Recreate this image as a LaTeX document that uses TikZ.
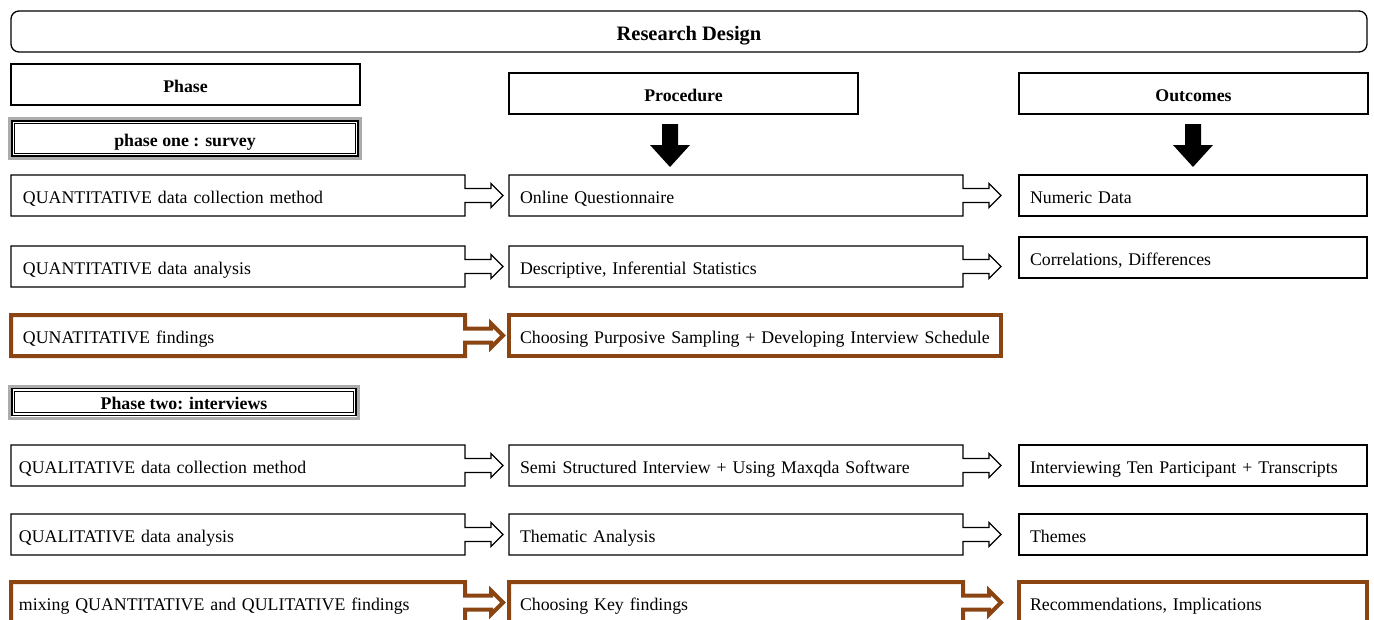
\documentclass[tikz,border=0pt]{standalone}
\usepackage{fontspec}
\setmainfont{Liberation Serif}
\definecolor{brn}{RGB}{139,69,19}
\newcommand\arrowbox[2]{%
  \draw[#2] (#1.north west) -- (#1.north east) -- ([yshift=7pt]#1.east) -- ++(26pt,0pt) -- ++(0pt,5pt)
    -- ([xshift=38pt]#1.east) -- ++(-12pt,-12pt) -- ++(0pt,5pt) -- ([yshift=-7pt]#1.east)
    -- (#1.south east) -- (#1.south west) -- cycle;}
\newcommand\blockdown[1]{%
  \fill (#1) +(-8pt,0pt) -- +(8pt,0pt) -- +(8pt,-21pt) -- +(20pt,-21pt) -- +(0pt,-43pt)
    -- +(-20pt,-21pt) -- +(-8pt,-21pt) -- cycle;}
\tikzset{
  txt/.style={font=\fontsize{17.8}{21}\selectfont},
  hdr/.style={draw, line width=1.3pt, anchor=north west, inner sep=0pt, outer sep=0pt,
    minimum width=349pt, minimum height=41pt, text height=15pt, text depth=0pt,
    font=\bfseries\fontsize{17.8}{21}\selectfont},
  base/.style={txt, anchor=north west, inner ysep=0pt, outer sep=0pt, minimum height=41pt,
    text height=15pt, text depth=0pt, align=left},
  lbox/.style={base, inner xsep=12pt, text width=430pt},
  lboxb/.style={base, inner xsep=8pt, text width=438pt},
  mbox/.style={base, inner xsep=11pt, text width=432pt},
  wbox/.style={base, inner xsep=11pt, text width=470pt},
  rbox/.style={base, draw, line width=1.3pt, inner xsep=11pt, text width=326pt},
  blk/.style={line width=1.3pt, line join=miter},
  brw/.style={draw=brn, line width=4pt, line join=miter},
  phasebox/.style={anchor=north west, inner sep=0pt, outer sep=0pt, text height=15pt, text depth=0pt,
    font=\bfseries\fontsize{17.8}{21}\selectfont}
}
\begin{document}
\begin{tikzpicture}[x=1pt, y=-1pt]
\useasboundingbox (0,0) rectangle (1374,619);
\clip (0,0) rectangle (1374,619);

% title
\node[draw, rounded corners=8pt, line width=1.3pt, anchor=north west, inner sep=0pt, outer sep=0pt,
  minimum width=1356pt, minimum height=41pt, text height=17pt, text depth=0pt,
  font=\bfseries\fontsize{20.5}{24}\selectfont]
  (title) at (11,11) {Research Design};

% headers
\node[hdr] (hphase) at (11,64) {Phase};
\node[hdr] (hproc) at (509,73) {Procedure};
\node[hdr] (hout) at (1019,73) {Outcomes};

% down arrows
\coordinate (d1) at (670,124);
\coordinate (d2) at (1193,124);
\blockdown{d1}
\blockdown{d2}

% phase one box
\node[phasebox, minimum width=351pt, minimum height=40pt] (p1) at (9.5,118.5) {phase one : survey};
\draw[gray!65, line width=3pt] (p1.north west) rectangle (p1.south east);
\draw[line width=1.8pt] ([shift={(2.5pt,-2.5pt)}]p1.north west) rectangle ([shift={(-2.5pt,2.5pt)}]p1.south east);
\draw[line width=1pt] ([shift={(5.3pt,-5.3pt)}]p1.north west) rectangle ([shift={(-5.3pt,5.3pt)}]p1.south east);

% row 1
\node[lbox] (a1) at (11,175) {QUANTITATIVE data collection method};
\node[mbox] (b1) at (509,175) {Online Questionnaire};
\node[rbox] (c1) at (1019,175) {Numeric Data};
\arrowbox{a1}{blk}
\arrowbox{b1}{blk}

% row 2
\node[lbox] (a2) at (11,246) {QUANTITATIVE data analysis};
\node[mbox] (b2) at (509,246) {Descriptive, Inferential Statistics};
\node[rbox] (c2) at (1019,237) {Correlations, Differences};
\arrowbox{a2}{blk}
\arrowbox{b2}{blk}

% row 3
\node[lbox] (a3) at (11,315) {QUNATITATIVE findings};
\node[wbox, draw=brn, line width=4pt] (b3) at (509,315) {Choosing Purposive Sampling + Developing Interview Schedule};
\arrowbox{a3}{brw}

% phase two box
\node[phasebox, minimum width=349pt, minimum height=32pt] (p2) at (9.5,386) {Phase two: interviews};
\draw[gray!65, line width=3pt] (p2.north west) rectangle (p2.south east);
\draw[line width=1.8pt] ([shift={(2.5pt,-2.5pt)}]p2.north west) rectangle ([shift={(-2.5pt,2.5pt)}]p2.south east);
\draw[line width=1pt] ([shift={(5.3pt,-5.3pt)}]p2.north west) rectangle ([shift={(-5.3pt,5.3pt)}]p2.south east);

% row 4
\node[lboxb] (a4) at (11,445) {QUALITATIVE data collection method};
\node[mbox] (b4) at (509,445) {Semi Structured Interview + Using Maxqda Software};
\node[rbox] (c4) at (1019,445) {Interviewing Ten Participant + Transcripts};
\arrowbox{a4}{blk}
\arrowbox{b4}{blk}

% row 5
\node[lboxb] (a5) at (11,514) {QUALITATIVE data analysis};
\node[mbox] (b5) at (509,514) {Thematic Analysis};
\node[rbox] (c5) at (1019,514) {Themes};
\arrowbox{a5}{blk}
\arrowbox{b5}{blk}

% row 6
\node[lboxb] (a6) at (11,582) {mixing QUANTITATIVE and QULITATIVE findings};
\node[mbox] (b6) at (509,582) {Choosing Key findings};
\node[rbox, draw=brn, line width=4pt] (c6) at (1019,582) {Recommendations, Implications};
\arrowbox{a6}{brw}
\arrowbox{b6}{brw}
\end{tikzpicture}
\end{document}
